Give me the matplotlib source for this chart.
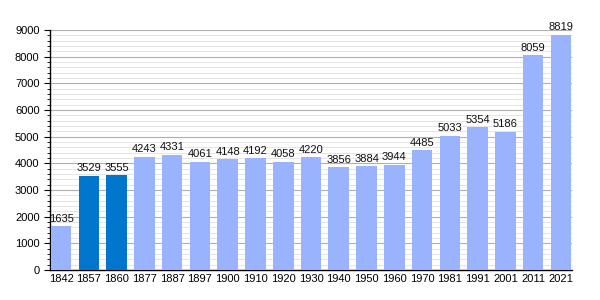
import numpy as np
import matplotlib.pyplot as plt
from matplotlib.ticker import MultipleLocator

plt.rcParams['font.family'] = ['Liberation Sans', 'DejaVu Sans']

# Population by census year
years = ['1842', '1857', '1860', '1877', '1887', '1897', '1900', '1910', '1920', '1930',
         '1940', '1950', '1960', '1970', '1981', '1991', '2001', '2011', '2021']
population = [1635, 3529, 3555, 4243, 4331, 4061, 4148, 4192, 4058, 4220,
              3856, 3884, 3944, 4485, 5033, 5354, 5186, 8059, 8819]
highlight = ['1857', '1860']

light = '#99b3ff'
dark = '#0077cc'
colors = [dark if y in highlight else light for y in years]

fig = plt.figure(figsize=(6, 3), dpi=100)
ax = fig.add_axes([50/600, 30/300, 522/600, 240/300])

x = np.arange(len(years))
ax.bar(x, population, width=0.74, color=colors, zorder=3)

for xi, v in zip(x, population):
    ax.text(xi, v + 90, str(v), ha='center', va='bottom', fontsize=8, color='#111111', zorder=4)

ax.set_xlim(-0.4, len(years) - 0.6)
ax.set_ylim(0, 9000)
ax.set_xticks(x)
ax.set_xticklabels(years, fontsize=8)
ax.yaxis.set_major_locator(MultipleLocator(1000))
ax.yaxis.set_minor_locator(MultipleLocator(200))
ax.tick_params(axis='y', labelsize=8, length=4, width=0.8)
ax.tick_params(axis='y', which='minor', length=2, width=0.6)
ax.tick_params(axis='x', length=0, pad=3)
ax.grid(axis='y', which='major', color='#b0b0b0', linewidth=0.8, zorder=0)
ax.grid(axis='y', which='minor', color='#e0e0e0', linewidth=0.6, zorder=0)

for side in ['top', 'right']:
    ax.spines[side].set_visible(False)
ax.spines['left'].set_linewidth(1.0)
ax.spines['bottom'].set_linewidth(1.0)

fig.savefig('out.png', dpi=100)
